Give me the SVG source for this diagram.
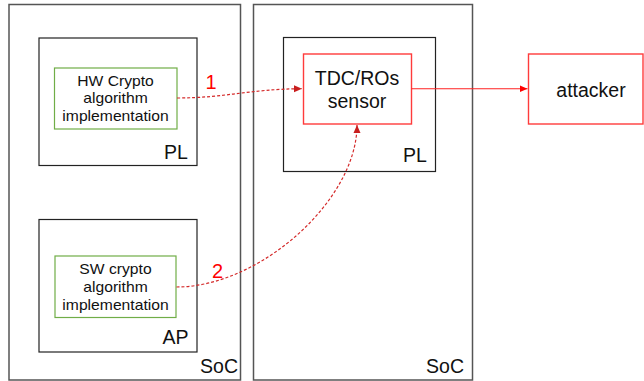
<svg xmlns="http://www.w3.org/2000/svg" width="644" height="381" viewBox="0 0 644 381">
  <style>
    .soc { fill: #fff; stroke: #555; stroke-width: 1.5; }
    .part { fill: none; stroke: #222; stroke-width: 1.2; }
    .impl { fill: #fff; stroke: #70ad47; stroke-width: 1.2; }
    .sens { fill: #fff; stroke: #ff3b3b; stroke-width: 1.4; }
    text { font-family: "Liberation Sans", Arial, sans-serif; fill: #111; }
    .small { font-size: 14px; text-anchor: middle; }
    .big { font-size: 19.5px; text-anchor: middle; }
    .num { font-size: 20px; text-anchor: middle; fill: #f00; }
    .leak { fill: none; stroke: #d42a2a; stroke-width: 1.2; stroke-dasharray: 3 2; }
    .out { fill: none; stroke: #f22; stroke-width: 1.1; }
  </style>
  <defs>
    <marker id="headDark" markerUnits="userSpaceOnUse" markerWidth="9" markerHeight="8" refX="8" refY="4" orient="auto">
      <path d="M0,0.5 L8,4 L0,7.5 Z" fill="#c81e1e"/>
    </marker>
    <marker id="headRed" markerUnits="userSpaceOnUse" markerWidth="9" markerHeight="8" refX="8" refY="4" orient="auto">
      <path d="M0,0.5 L8,4 L0,7.5 Z" fill="#f00"/>
    </marker>
  </defs>

  <rect width="644" height="381" fill="#fff"/>

  <!-- victim SoC -->
  <g id="soc-left">
    <rect class="soc" x="9" y="4.5" width="231.5" height="375.5"/>
    <text class="big" x="219" y="372.5">SoC</text>
  </g>
  <g id="pl-left">
    <rect class="part" x="39" y="38" width="158" height="127.5"/>
    <text class="big" x="176" y="158.5">PL</text>
  </g>
  <g id="hw-crypto">
    <rect class="impl" x="54.5" y="68" width="122.5" height="61"/>
    <g transform="translate(115.5 0) scale(1.12 1)">
      <text class="small" x="0" y="86">HW Crypto</text>
      <text class="small" x="0" y="103.5">algorithm</text>
      <text class="small" x="0" y="121">implementation</text>
    </g>
  </g>
  <g id="ap">
    <rect class="part" x="39" y="219.5" width="158" height="132.5"/>
    <text class="big" x="175.5" y="343.5">AP</text>
  </g>
  <g id="sw-crypto">
    <rect class="impl" x="55" y="256" width="121" height="61.5"/>
    <g transform="translate(115.5 0) scale(1.12 1)">
      <text class="small" x="0" y="274">SW crypto</text>
      <text class="small" x="0" y="292">algorithm</text>
      <text class="small" x="0" y="310">implementation</text>
    </g>
  </g>

  <!-- sensing SoC -->
  <g id="soc-right">
    <rect class="soc" x="253.5" y="4.5" width="219" height="375.5"/>
    <text class="big" x="445" y="372.5">SoC</text>
  </g>
  <g id="pl-right">
    <rect class="part" x="283.5" y="37.5" width="152" height="134"/>
    <text class="big" x="415" y="161.5">PL</text>
  </g>
  <g id="sensor">
    <rect class="sens" x="303.5" y="54" width="108" height="70"/>
    <text class="big" x="357" y="85">TDC/ROs</text>
    <text class="big" x="357" y="107.5">sensor</text>
  </g>
  <g id="attacker">
    <rect class="sens" x="528.5" y="54" width="114.5" height="70"/>
    <text class="big" x="591" y="96.5">attacker</text>
  </g>

  <!-- connectors -->
  <g id="connectors">
    <path class="leak" d="M177,98 C225,98 250,89 302,88.7" marker-end="url(#headDark)"/>
    <path class="leak" d="M176.5,287 C260,287 357,200 357,125" marker-end="url(#headDark)"/>
    <path class="out" d="M411.5,88.7 L527.5,88.7" marker-end="url(#headRed)"/>
    <text class="num" x="211" y="89">1</text>
    <text class="num" x="217.5" y="277.5">2</text>
  </g>
</svg>
